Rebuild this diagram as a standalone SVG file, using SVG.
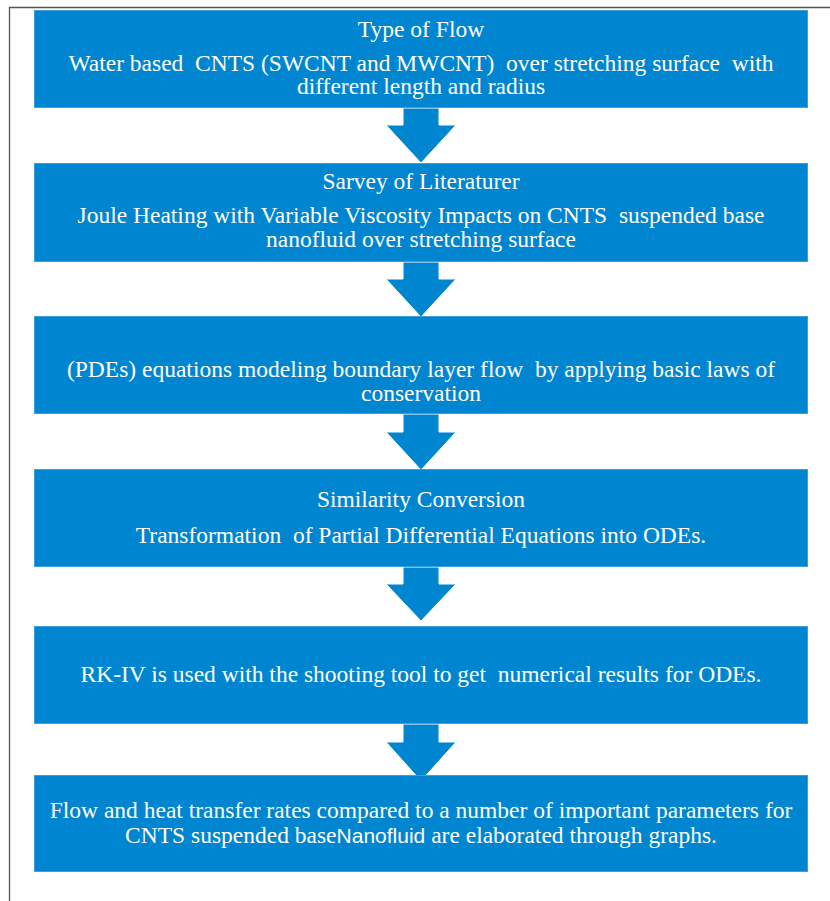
<svg xmlns="http://www.w3.org/2000/svg" width="830" height="901" viewBox="0 0 830 901">
<style>
.box{fill:#0085D0;stroke:#3C9EDB;stroke-width:1}
.arr{fill:#0085D0;stroke:#FFFFFF;stroke-width:1}
.t{font-family:"Liberation Serif","Times New Roman",serif;font-size:23.5px;fill:#FFFFFF;text-anchor:middle;white-space:pre}
.frame{stroke:#555555;stroke-width:1.3;fill:none}
</style>
<rect width="830" height="901" fill="#FFFFFF"/>
<path class="frame" d="M9.5,901 V7.5 H830"/>
<g id="connectors">
<polygon class="arr" points="403,108 439,108 439,125 456,125 421,163 386,125 403,125"/>
<polygon class="arr" points="403,262 439,262 439,279 456,279 421,317 386,279 403,279"/>
<polygon class="arr" points="403,414 439,414 439,432 456,432 421,470 386,432 403,432"/>
<polygon class="arr" points="403,567 439,567 439,584 456,584 421,621 386,584 403,584"/>
<polygon class="arr" points="403,724 439,724 439,742 456,742 421,781 386,742 403,742"/>
</g>
<g id="n1">
<rect class="box" x="34.5" y="10.5" width="773" height="97"/>
<text class="t" x="421" y="36.5">Type of Flow</text>
<text class="t" x="421" y="70.5" xml:space="preserve">Water based  CNTS (SWCNT and MWCNT)  over stretching surface  with</text>
<text class="t" x="421" y="94">different length and radius</text>
</g>
<g id="n2">
<rect class="box" x="34.5" y="163.5" width="773" height="98"/>
<text class="t" x="421" y="189">Sarvey of Literaturer</text>
<text class="t" x="421" y="223" xml:space="preserve">Joule Heating with Variable Viscosity Impacts on CNTS  suspended base</text>
<text class="t" x="421" y="247">nanofluid over stretching surface</text>
</g>
<g id="n3">
<rect class="box" x="34.5" y="316.5" width="773" height="97"/>
<text class="t" x="421" y="377" xml:space="preserve">(PDEs) equations modeling boundary layer flow  by applying basic laws of</text>
<text class="t" x="421" y="401">conservation</text>
</g>
<g id="n4">
<rect class="box" x="34.5" y="469.5" width="773" height="97"/>
<text class="t" x="421" y="507">Similarity Conversion</text>
<text class="t" x="421" y="543" xml:space="preserve">Transformation  of Partial Differential Equations into ODEs.</text>
</g>
<g id="n5">
<rect class="box" x="34.5" y="626.5" width="773" height="97"/>
<text class="t" x="421" y="682" xml:space="preserve">RK-IV is used with the shooting tool to get  numerical results for ODEs.</text>
</g>
<g id="n6">
<rect class="box" x="34.5" y="775.5" width="773" height="96"/>
<text class="t" x="421" y="818">Flow and heat transfer rates compared to a number of important parameters for</text>
<text class="t" x="421" y="843">CNTS suspended base<tspan font-family="Liberation Sans, Arial, sans-serif" font-size="21">Nanofluid</tspan> are elaborated through graphs.</text>
</g>
</svg>
